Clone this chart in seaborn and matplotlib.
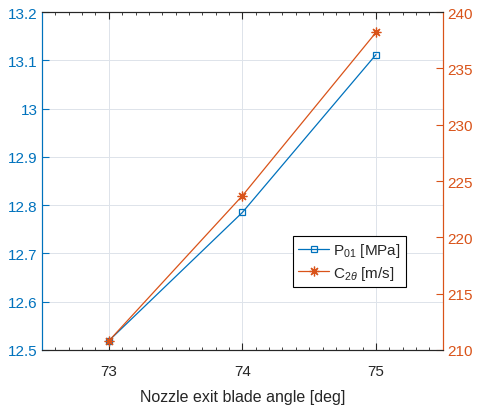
import numpy as np
import matplotlib
matplotlib.use('Agg')
import matplotlib.pyplot as plt
import seaborn as sns
from matplotlib.ticker import MultipleLocator

# Data
blade_angle = [73, 74, 75]
p01_mpa = [12.519, 12.785, 13.112]
c2theta_ms = [210.8, 223.7, 238.2]

blue = '#0072BD'
orange = '#D95319'

sns.set_style('white')
plt.rcParams['font.family'] = ['Liberation Sans', 'DejaVu Sans']
plt.rcParams['mathtext.fontset'] = 'custom'
plt.rcParams['mathtext.rm'] = 'Liberation Sans'
plt.rcParams['mathtext.it'] = 'Liberation Sans:italic'

fig = plt.figure(figsize=(4.85, 4.1), dpi=100)
ax = fig.add_axes([0.0866, 0.144, 0.8264, 0.824])
ax2 = ax.twinx()

sns.lineplot(x=blade_angle, y=p01_mpa, ax=ax, color=blue, marker='s', markersize=5,
             markerfacecolor='none', markeredgecolor=blue, markeredgewidth=0.9,
             linewidth=0.9, label='P$_{01}$ [MPa]', legend=False)
sns.lineplot(x=blade_angle, y=c2theta_ms, ax=ax2, color=orange, marker=(8, 2, 0), markersize=7,
             markerfacecolor='none', markeredgecolor=orange, markeredgewidth=0.9,
             linewidth=0.9, label=r'C$_{2\theta}$ [m/s]', legend=False)

ax.set_xlim(72.5, 75.5)
ax.set_ylim(12.5, 13.2)
ax2.set_ylim(210, 240)
ax.set_xticks([73, 74, 75])
ax.xaxis.set_minor_locator(MultipleLocator(0.1))
ax.set_yticks(np.round(np.arange(12.5, 13.21, 0.1), 1))
ax.set_yticklabels(['12.5', '12.6', '12.7', '12.8', '12.9', '13', '13.1', '13.2'])
ax2.set_yticks(np.arange(210, 241, 5))

ax.grid(True, color='#dde3ea', linewidth=0.7)
ax.set_axisbelow(True)

ax.tick_params(axis='x', which='both', direction='in', top=True, bottom=True,
               labelsize=11, colors='#262626', pad=10)
ax.tick_params(axis='x', which='major', length=5)
ax.tick_params(axis='x', which='minor', length=2.5)
ax.tick_params(axis='y', direction='in', length=5, labelsize=11, colors=blue, pad=3)
ax2.tick_params(axis='y', direction='in', length=5, labelsize=11, colors=orange, pad=3)

for a in (ax, ax2):
    for s in a.spines.values():
        s.set_linewidth(0.8)
        s.set_color('#262626')
ax2.spines['left'].set_color(blue)
ax2.spines['right'].set_color(orange)
ax.spines['left'].set_color(blue)
ax.spines['right'].set_color(orange)

ax.set_xlabel('Nozzle exit blade angle [deg]', fontsize=11.5, color='#262626', labelpad=8)

handles = ax.get_lines()[:1] + ax2.get_lines()[:1]
leg = ax2.legend(handles, [h.get_label() for h in handles], loc='lower left',
                 bbox_to_anchor=(0.626, 0.186), fontsize=11, frameon=True, fancybox=False,
                 edgecolor='black', framealpha=1, handlelength=2.0, handletextpad=0.3,
                 borderpad=0.35, labelspacing=0.3, borderaxespad=0)
leg.get_frame().set_linewidth(0.8)

fig.savefig('out.png', dpi=100)
